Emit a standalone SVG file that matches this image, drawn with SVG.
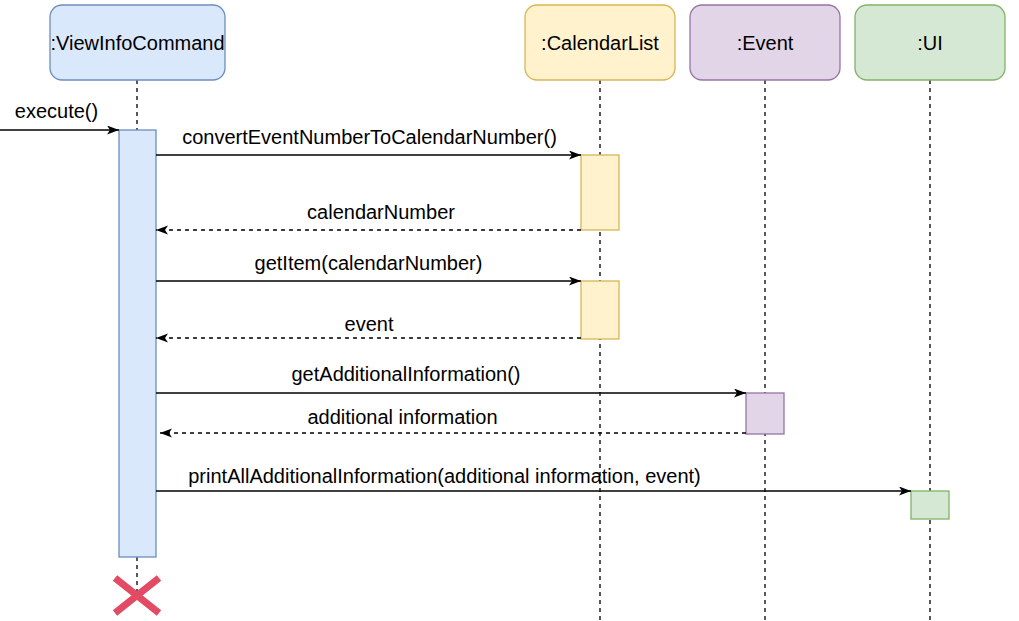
<svg xmlns="http://www.w3.org/2000/svg" width="1019" height="621" viewBox="0 0 1019 621">
<style>
text{font-family:"Liberation Sans",Arial,sans-serif;font-size:20px;fill:#000}
.life{stroke:#000;stroke-width:1.3;stroke-dasharray:4 4;fill:none}
.msg{stroke:#000;stroke-width:1.3;fill:none}
.ret{stroke:#000;stroke-width:1.3;fill:none;stroke-dasharray:4 4}
.blue{fill:#dae8fc;stroke:#6c8ebf;stroke-width:1.3}
.yellow{fill:#fff2cc;stroke:#d6b656;stroke-width:1.3}
.purple{fill:#e1d5e7;stroke:#9673a6;stroke-width:1.3}
.green{fill:#d5e8d4;stroke:#82b366;stroke-width:1.3}
</style>
<defs>
<marker id="arr" markerWidth="13" markerHeight="10" refX="12" refY="4.5" orient="auto" markerUnits="userSpaceOnUse">
<path d="M0,0 L12,4.5 L0,9 L3,4.5 Z" fill="#000"/>
</marker>
</defs>
<rect width="1019" height="621" fill="#fff"/>
<g id="lifelines">
<line class="life" x1="137" y1="80" x2="137" y2="130"/>
<line class="life" x1="137" y1="557" x2="137" y2="598"/>
<line class="life" x1="600" y1="80" x2="600" y2="621"/>
<line class="life" x1="765" y1="80" x2="765" y2="621"/>
<line class="life" x1="930" y1="80" x2="930" y2="621"/>
</g>
<g id="viewInfoCommand">
<rect class="blue" x="50" y="5" width="175" height="75" rx="12"/>
<text x="137.5" y="50" text-anchor="middle">:ViewInfoCommand</text>
<rect class="blue" x="119" y="130" width="37" height="427"/>
</g>
<g id="calendarList">
<rect class="yellow" x="525" y="5" width="150" height="75" rx="12"/>
<text x="600" y="50" text-anchor="middle">:CalendarList</text>
<rect class="yellow" x="581" y="155" width="38" height="75"/>
<rect class="yellow" x="581" y="281" width="38" height="58"/>
</g>
<g id="event">
<rect class="purple" x="690" y="5" width="150" height="75" rx="12"/>
<text x="765" y="50" text-anchor="middle">:Event</text>
<rect class="purple" x="746" y="393" width="38" height="41"/>
</g>
<g id="ui">
<rect class="green" x="855" y="5" width="150" height="75" rx="12"/>
<text x="930" y="50" text-anchor="middle">:UI</text>
<rect class="green" x="911" y="491" width="38" height="28"/>
</g>
<g id="connectors">
<line class="msg" x1="0" y1="130" x2="119" y2="130" marker-end="url(#arr)"/>
<line class="msg" x1="156" y1="155" x2="581" y2="155" marker-end="url(#arr)"/>
<line class="ret" x1="581" y1="230" x2="156" y2="230" marker-end="url(#arr)"/>
<line class="msg" x1="156" y1="281" x2="581" y2="281" marker-end="url(#arr)"/>
<line class="ret" x1="581" y1="338" x2="156" y2="338" marker-end="url(#arr)"/>
<line class="msg" x1="156" y1="393" x2="746" y2="393" marker-end="url(#arr)"/>
<line class="ret" x1="746" y1="433" x2="160" y2="433" marker-end="url(#arr)"/>
<line class="msg" x1="156" y1="491" x2="911" y2="491" marker-end="url(#arr)"/>
</g>
<g id="labels">
<text x="56.5" y="118" text-anchor="middle">execute()</text>
<text x="369.5" y="144" text-anchor="middle">convertEventNumberToCalendarNumber()</text>
<text x="381" y="219" text-anchor="middle">calendarNumber</text>
<text x="368.5" y="270" text-anchor="middle">getItem(calendarNumber)</text>
<text x="369" y="331" text-anchor="middle">event</text>
<text x="406" y="381" text-anchor="middle">getAdditionalInformation()</text>
<text x="402.5" y="424" text-anchor="middle">additional information</text>
<text x="444.5" y="483" text-anchor="middle">printAllAdditionalInformation(additional information, event)</text>
</g>
<g id="destroy">
<path d="M115,578 L159,613 M159,578 L115,613" stroke="#e34a63" stroke-width="7" fill="none"/>
</g>
</svg>
